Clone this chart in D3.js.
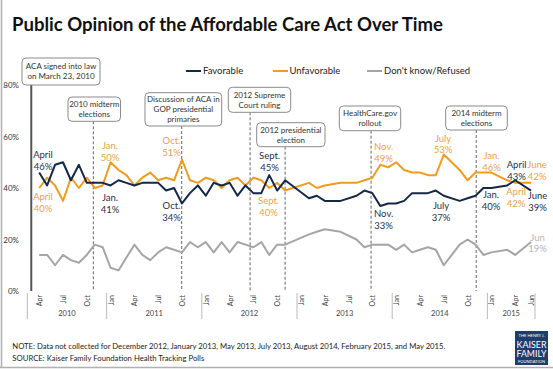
<!DOCTYPE html>
<html><head><meta charset="utf-8">
<script src="https://cdn.jsdelivr.net/npm/d3@7"></script>
<style>
body{margin:0;background:#fff}
svg{display:block}
text{font-family:Lato,"Open Sans",sans-serif}
</style>
</head><body>
<svg id="chart" width="553" height="369"></svg>
<script>
// ---------------- DATA ----------------
const months = [
  "2010-04","2010-05","2010-06","2010-07","2010-08","2010-09","2010-10","2010-11","2010-12",
  "2011-01","2011-02","2011-03","2011-04","2011-05","2011-06","2011-07","2011-08","2011-09","2011-10","2011-11","2011-12",
  "2012-01","2012-02","2012-03","2012-04","2012-05","2012-06","2012-07","2012-08","2012-09","2012-10","2012-11",
  "2013-02","2013-03","2013-04","2013-06","2013-08","2013-09","2013-10","2013-11","2013-12",
  "2014-01","2014-02","2014-03","2014-04","2014-05","2014-06","2014-07","2014-09","2014-10","2014-11","2014-12",
  "2015-01","2015-03","2015-04","2015-06"
];
const favorable = [
  46,41,49,50,43,49,42,42,42,
  41,43,42,41,42,42,42,39,40,34,38,41,
  37,42,41,42,37,41,38,38,45,39,43,
  36,37,35,35,37,39,38,33,34,
  34,35,38,38,38,39,37,35,36,37,40,
  40,41,43,39
];
const unfavorable = [
  40,44,41,35,44,40,44,40,41,
  50,47,45,41,44,46,43,44,43,51,43,42,
  44,43,40,43,44,41,44,43,40,42,39,
  42,40,41,42,42,43,44,49,48,
  50,47,46,46,45,45,53,47,43,46,46,
  46,43,42,42
];
const dontKnow = [
  14,14,10,14,12,11,14,18,17,
  9,8,13,18,14,12,15,17,16,15,19,17,
  19,15,19,15,19,18,17,19,14,18,18,
  22,23,24,23,20,17,18,18,18,
  16,18,15,16,17,16,10,18,20,18,14,
  15,16,14,19
];
const seriesNames = ["Favorable","Unfavorable","Don't know/Refused"];
const yTickValues = [0,20,40,60,80];
const axisStart = "2010-03", axisEnd = "2015-06";
const monthTickLabels = ["Jan","Apr","Jul","Oct"];
const lastTickLabel = "Jun";
const years = ["2010","2011","2012","2013","2014","2015"];

const events = [
  {month:"2010-03", lines:["ACA signed into law","on March 23, 2010"], solid:true},
  {month:"2010-11", lines:["2010 midterm","elections"]},
  {month:"2011-10", lines:["Discussion of ACA in","GOP presidential","primaries"]},
  {month:"2012-07", lines:["2012 Supreme","Court ruling"]},
  {month:"2012-11", lines:["2012 presidential","election"]},
  {month:"2013-10", lines:["HealthCare.gov","rollout"]},
  {month:"2014-11", lines:["2014 midterm","elections"]}
];
const pointLabels = [
  {s:0, month:"2010-04", lines:["April","46%"]},
  {s:1, month:"2010-04", lines:["April","40%"]},
  {s:1, month:"2011-01", lines:["Jan.","50%"]},
  {s:0, month:"2011-01", lines:["Jan.","41%"]},
  {s:1, month:"2011-10", lines:["Oct.","51%"]},
  {s:0, month:"2011-10", lines:["Oct.","34%"]},
  {s:0, month:"2012-09", lines:["Sept.","45%"]},
  {s:1, month:"2012-09", lines:["Sept.","40%"]},
  {s:1, month:"2013-11", lines:["Nov.","49%"]},
  {s:0, month:"2013-11", lines:["Nov.","33%"]},
  {s:1, month:"2014-07", lines:["July","53%"]},
  {s:0, month:"2014-07", lines:["July","37%"]},
  {s:1, month:"2015-01", lines:["Jan.","46%"]},
  {s:0, month:"2015-01", lines:["Jan.","40%"]},
  {s:0, month:"2015-04", lines:["April","43%"]},
  {s:1, month:"2015-04", lines:["April","42%"]},
  {s:1, month:"2015-06", lines:["June","42%"]},
  {s:0, month:"2015-06", lines:["June","39%"]},
  {s:2, month:"2015-06", lines:["Jun","19%"]}
];
const titleText = "Public Opinion of the Affordable Care Act Over Time";
const noteText = "NOTE: Data not collected for December 2012, January 2013,  May 2013,  July 2013,  August 2014,  February 2015,  and May 2015.";
const sourceText = "SOURCE: Kaiser Family Foundation Health Tracking Polls";
const logoLines = ["THE HENRY J.","KAISER","FAMILY","FOUNDATION"];

// ---------------- LAYOUT / STYLE ----------------
const colors = ["#14284a","#f29b1f","#a5a5a5"];
const labelColors = ["#1f2f4f","#eca248","#b5b5b5"];
const eventLayout = [
  {box:[22,58,78,27], dx:0},
  {box:[68,97,52.5,24.3], dx:-1.4},
  {box:[145,92.7,76.7,33.3], dx:-0.3},
  {box:[228.3,87.3,62.4,25], dx:-3.3},
  {box:[256.7,122.7,68.3,24], dx:0},
  {box:[339.3,106,61.4,24.7], dx:-1.3},
  {box:[445.7,106,61.6,24], dx:0.7}
];
const labelOffsets = [
  [3.8,-17.5],[3.8,8.7],[-0.6,-16.3],[-0.6,12.6],[-10.5,-19],[-10.5,2.5],
  [0.3,-19.1],[-0.7,12.7],[3.3,-18.1],[3.3,8],[-0.7,-16.2],[-2.7,10.3],
  [0.2,-16.5],[-0.3,7],[1.4,-15.3],[0.9,8.8],[6,-17.9],[6.5,5.1],[6.5,-4.8]
];

const svg = d3.select("#chart");
const monthIdx = s => { const [y,m] = s.split("-").map(Number); const [y0,m0] = axisStart.split("-").map(Number); return (y-y0)*12 + (m-m0); };
const nMonths = monthIdx(axisEnd);
const x = d3.scaleLinear().domain([-0.5, nMonths+0.5]).range([27.3, 535]);
const y = d3.scaleLinear().domain([0,80]).range([291, 85]);

// frame
svg.append("line").attr("x1",1.5).attr("x2",1.5).attr("y1",0).attr("y2",367.5).attr("stroke","#b0b0b0").attr("stroke-width",1.5);
svg.append("line").attr("x1",0).attr("x2",553).attr("y1",367.5).attr("y2",367.5).attr("stroke","#b0b0b0").attr("stroke-width",1.5);

// title
svg.append("text").attr("x",12).attr("y",30.5).attr("font-size",18.5).attr("font-weight","bold").attr("fill","#111")
  .attr("textLength",431).attr("lengthAdjust","spacingAndGlyphs").text(titleText);

// y axis
const yAxisG = svg.append("g").attr("transform","translate(22,0)")
  .call(d3.axisLeft(y).tickValues(yTickValues).tickFormat(d=>d+"%").tickSize(0).tickPadding(3));
yAxisG.select(".domain").remove();
yAxisG.selectAll("text").attr("font-size",8).attr("fill","#333").attr("font-family","Lato,sans-serif");

// x axis month labels
const tickIdx = d3.range(0, nMonths+1).filter(i => { const mm = (i+2)%12; return (mm%3===0 && i>0) || i===nMonths; });
const monthName = i => { const mm=(i+2)%12; return i===nMonths ? lastTickLabel : monthTickLabels[mm/3]; };
const xAxisG = svg.append("g").attr("transform","translate(0,291)")
  .call(d3.axisBottom(x).tickValues(tickIdx).tickFormat(monthName).tickSize(0));
xAxisG.select(".domain").remove();
xAxisG.selectAll("text").attr("y",0).attr("x",-4).attr("dy","0.35em").attr("transform","rotate(-90)")
  .attr("text-anchor","end").attr("font-size",7).attr("fill","#444").attr("font-family","Lato,sans-serif");

// year groups
const yearBounds = years.map((yr,i)=>{
  const s = i===0 ? -0.5 : monthIdx(yr+"-01")-0.5;
  const e = i===years.length-1 ? nMonths+0.5 : monthIdx(years[i+1]+"-01")-0.5;
  return {yr, s, e};
});
const sepVals = [yearBounds[0].s, ...yearBounds.map(d=>d.e)];
svg.selectAll(".sep").data(sepVals).join("line").attr("class","sep")
  .attr("x1",d=>x(d)).attr("x2",d=>x(d)).attr("y1",293).attr("y2",319)
  .attr("stroke","#bbb").attr("stroke-width",1);
svg.selectAll(".yr").data(yearBounds).join("text").attr("class","yr")
  .attr("x",d=>(x(d.s)+x(d.e))/2).attr("y",316).attr("text-anchor","middle")
  .attr("font-size",7.5).attr("fill","#444").text(d=>d.yr);

// events
events.forEach((ev,i)=>{
  const L = eventLayout[i];
  const [bx,by,bw,bh] = L.box;
  const ex = x(monthIdx(ev.month)) + L.dx;
  svg.append("line").attr("x1",ex).attr("x2",ex).attr("y1",by+bh).attr("y2",291)
    .attr("stroke", ev.solid ? "#555" : "#666")
    .attr("stroke-width", ev.solid ? 2 : 1)
    .attr("stroke-dasharray", ev.solid ? null : "3,2");
  svg.append("rect").attr("x",bx).attr("y",by).attr("width",bw).attr("height",bh).attr("rx",4)
    .attr("fill","#fff").attr("stroke","#8a8a8a").attr("stroke-width",1);
  const lh = 10, n = ev.lines.length;
  ev.lines.forEach((t,j)=>{
    svg.append("text").attr("x",bx+bw/2).attr("y",by+bh/2+(j-(n-1)/2)*lh).attr("dy","0.35em")
      .attr("text-anchor","middle").attr("font-size",8).attr("fill","#333").text(t);
  });
});

// legend
const legendLayout = [[186,201,203],[273,288,289.5],[367,382,384]];
seriesNames.forEach((nm,i)=>{
  const [a,b,t] = legendLayout[i];
  svg.append("line").attr("x1",a).attr("x2",b).attr("y1",71).attr("y2",71).attr("stroke",colors[i]).attr("stroke-width",2);
  svg.append("text").attr("x",t).attr("y",71).attr("dy","0.35em").attr("font-size",9.5).attr("fill","#222").text(nm);
});

// lines
const seriesVals = [favorable, unfavorable, dontKnow];
const line = d3.line().x(d=>x(monthIdx(d.m))).y(d=>y(d.v));
[2,1,0].forEach(si=>{
  const data = months.map((m,k)=>({m, v:seriesVals[si][k]}));
  svg.append("path").datum(data).attr("d",line).attr("fill","none")
    .attr("stroke",colors[si]).attr("stroke-width",2).attr("stroke-linejoin","round");
});

// point labels
pointLabels.forEach((p,i)=>{
  const k = months.indexOf(p.month);
  const px = x(monthIdx(p.month)), py = y(seriesVals[p.s][k]);
  const [dx,dy] = labelOffsets[i];
  p.lines.forEach((t,j)=>{
    svg.append("text").attr("x",px+dx).attr("y",py+dy+j*11.7).attr("dy","0.35em")
      .attr("text-anchor","middle").attr("font-size",9.5).attr("fill",labelColors[p.s]).text(t);
  });
});

// footer
svg.append("text").attr("x",12.3).attr("y",346).attr("dy","0.35em").attr("font-size",8.2).attr("fill","#222")
  .attr("textLength",433).attr("lengthAdjust","spacingAndGlyphs").text(noteText);
svg.append("text").attr("x",12.3).attr("y",358.2).attr("dy","0.35em").attr("font-size",8.2).attr("fill","#222")
  .attr("textLength",192).attr("lengthAdjust","spacingAndGlyphs").text(sourceText);

// logo
const lg = svg.append("g").attr("transform","translate(515,331)");
lg.append("rect").attr("width",33).attr("height",34).attr("fill","#1e3d6f");
const logoY = [5,14.5,23,30.5], logoSize=[3.6,8.5,8.5,3.4], logoW=[26,30,30,27];
logoLines.forEach((t,i)=>{
  lg.append("text").attr("x",16.5).attr("y",logoY[i]).attr("dy","0.35em").attr("text-anchor","middle")
    .attr("font-family","'Liberation Serif','DejaVu Serif',serif").attr("font-size",logoSize[i]).attr("fill","#fff")
    .attr("textLength",logoW[i]).attr("lengthAdjust","spacingAndGlyphs").text(t);
});
</script>
</body></html>
